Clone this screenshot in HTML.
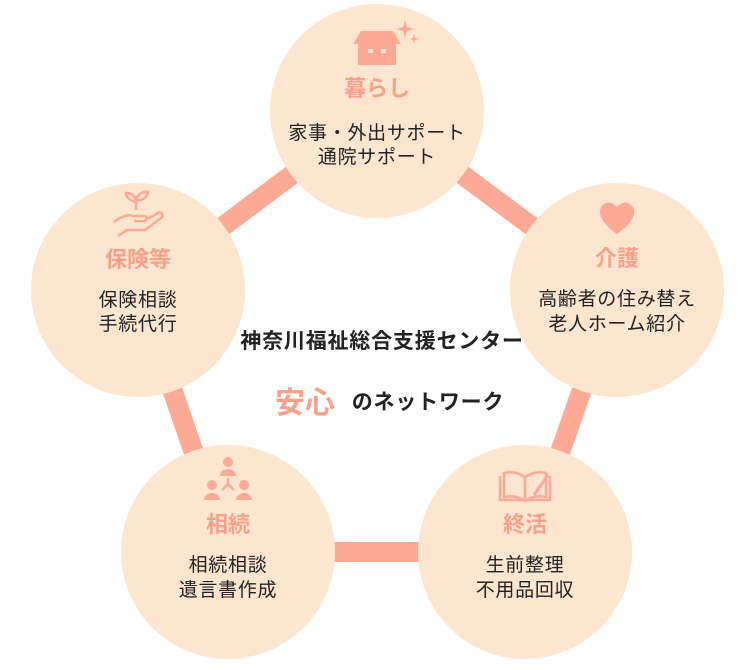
<!DOCTYPE html>
<html><head><meta charset="utf-8"><style>
html,body{margin:0;padding:0;background:#fff}
svg{display:block}
text{font-family:"Liberation Sans","Noto Sans CJK JP",sans-serif}
.t{font-size:22px;font-weight:bold;fill:#f9a08a}
.b{font-size:19px;fill:#222;letter-spacing:0.7px}
.c{font-size:21px;font-weight:bold;fill:#222;letter-spacing:0.8px}
</style></head><body>
<svg width="752" height="670" viewBox="0 0 752 670" xmlns="http://www.w3.org/2000/svg">
<g stroke="#fca995" stroke-width="20" fill="none">
<polygon points="377,111 617,290 525,552 228,552 138,290"/>
</g>
<g fill="#fde6cf">
<circle cx="377" cy="111" r="107"/>
<circle cx="617" cy="290" r="107"/>
<circle cx="525" cy="552" r="107"/>
<circle cx="228" cy="552" r="107"/>
<circle cx="138" cy="290" r="107"/>
</g>
<g fill="#fca995">
<polygon points="353,44 361,31 393,31 401,44"/>
<path d="M358,44h38v21h-38z M368,49v4h5v-4z M381,49v4h5v-4z" fill-rule="evenodd"/>
<path d="M405,20 l2,7 7,2 -7,2 -2,7 -2,-7 -7,-2 7,-2z"/>
<path d="M414,34 l1,4 4,1 -4,1 -1,4 -1,-4 -4,-1 4,-1z"/>
<path d="M617,234 C600,222 597,212 602,206 C607,200 615,203 617,208 C619,203 627,200 632,206 C637,212 634,222 617,234z"/>
<circle cx="228" cy="462" r="5"/><path d="M220,476a8,7 0 0 1 16,0z"/>
<circle cx="212" cy="485" r="5"/><path d="M204,500a8,7 0 0 1 16,0z"/>
<circle cx="244" cy="485" r="5"/><path d="M236,500a8,7 0 0 1 16,0z"/>
</g>
<g stroke="#fca995" stroke-width="2.5" fill="none">
<path d="M228,478v6 M222,490l6,-6 6,6"/>
<path d="M500,476v24h50v-24 M504,473c8,-2 15,0 21,4c6,-4 13,-6 21,-4v24c-8,-2 -15,0 -21,4c-6,-4 -13,-6 -21,-4z M525,477v24"/>
<path d="M534,495l14,-20" stroke-width="3"/>
<path d="M114,222c8,-6 14,-8 20,-6h10c4,0 4,5 0,5h-10 M144,221l14,-8c4,-2 6,2 3,5l-16,12h-18l-9,6"/>
<path d="M136,210v-10 M136,202c-6,-1 -10,-5 -10,-9c6,0 10,4 10,9 M136,200c2,-6 7,-9 12,-8c-1,6 -6,9 -12,8"/>
</g>
<text class="t" x="377" y="96" text-anchor="middle">暮らし</text>
<text class="b" x="377" y="139" text-anchor="middle">家事・外出サポート</text>
<text class="b" x="377" y="163" text-anchor="middle">通院サポート</text>

<text class="t" x="617" y="266" text-anchor="middle">介護</text>
<text class="b" x="617" y="305" text-anchor="middle">高齢者の住み替え</text>
<text class="b" x="617" y="330" text-anchor="middle">老人ホーム紹介</text>

<text class="t" x="525" y="532" text-anchor="middle">終活</text>
<text class="b" x="525" y="571" text-anchor="middle">生前整理</text>
<text class="b" x="525" y="596" text-anchor="middle">不用品回収</text>

<text class="t" x="228" y="532" text-anchor="middle">相続</text>
<text class="b" x="228" y="571" text-anchor="middle">相続相談</text>
<text class="b" x="228" y="596" text-anchor="middle">遺言書作成</text>

<text class="t" x="138" y="267" text-anchor="middle">保険等</text>
<text class="b" x="138" y="306" text-anchor="middle">保険相談</text>
<text class="b" x="138" y="330" text-anchor="middle">手続代行</text>

<text class="c" x="382" y="348" text-anchor="middle">神奈川福祉総合支援センター</text>
<text x="305" y="413" text-anchor="middle" style="font-size:30px;font-weight:bold;fill:#f9a08a">安心</text>
<text class="c" x="428" y="409" text-anchor="middle">のネットワーク</text>
</svg>
</body></html>
